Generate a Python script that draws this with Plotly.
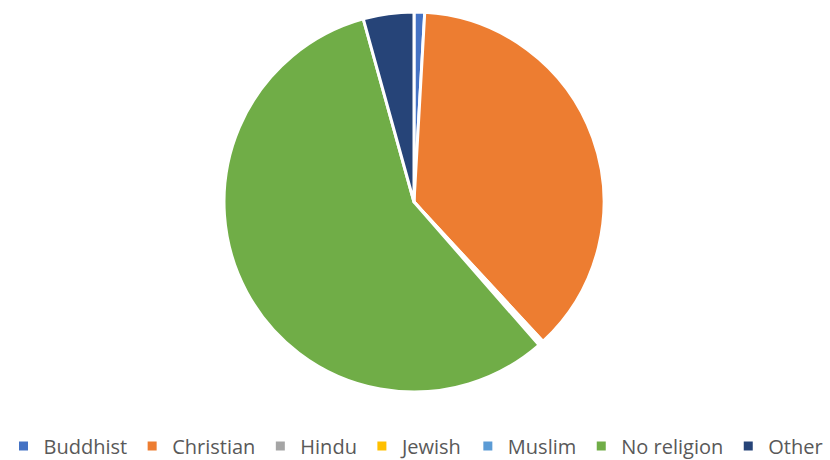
import plotly.graph_objects as go

labels = ["Buddhist", "Christian", "Hindu", "Jewish", "Muslim", "No religion", "Other"]
values = [0.9, 37.2, 0.15, 0.15, 0.15, 57.1, 4.3]
colors = ["#4472C4", "#ED7D31", "#A5A5A5", "#FFC000", "#5B9BD5", "#70AD47", "#264478"]

W, H = 830, 460
fig = go.Figure(go.Pie(
    labels=labels, values=values, sort=False, direction="clockwise", rotation=0,
    marker=dict(colors=colors, line=dict(color="white", width=3)),
    textinfo="none", hoverinfo="label+percent",
    domain=dict(x=[224 / W, 604 / W], y=[(H - 392) / H, (H - 12) / H]),
))
fig.update_layout(
    width=W, height=H,
    margin=dict(l=0, r=0, t=0, b=0, autoexpand=False),
    paper_bgcolor="white", plot_bgcolor="white",
    showlegend=True,
    legend=dict(orientation="h", x=416 / W, xanchor="center", y=(H - 446) / H, yanchor="middle",
                font=dict(family="Open Sans, sans-serif", size=20, color="#595959"),
                itemwidth=30, traceorder="normal"),
)
fig.write_html("out.html", config={"displayModeBar": False},
               post_script="document.body.style.margin='0';")
